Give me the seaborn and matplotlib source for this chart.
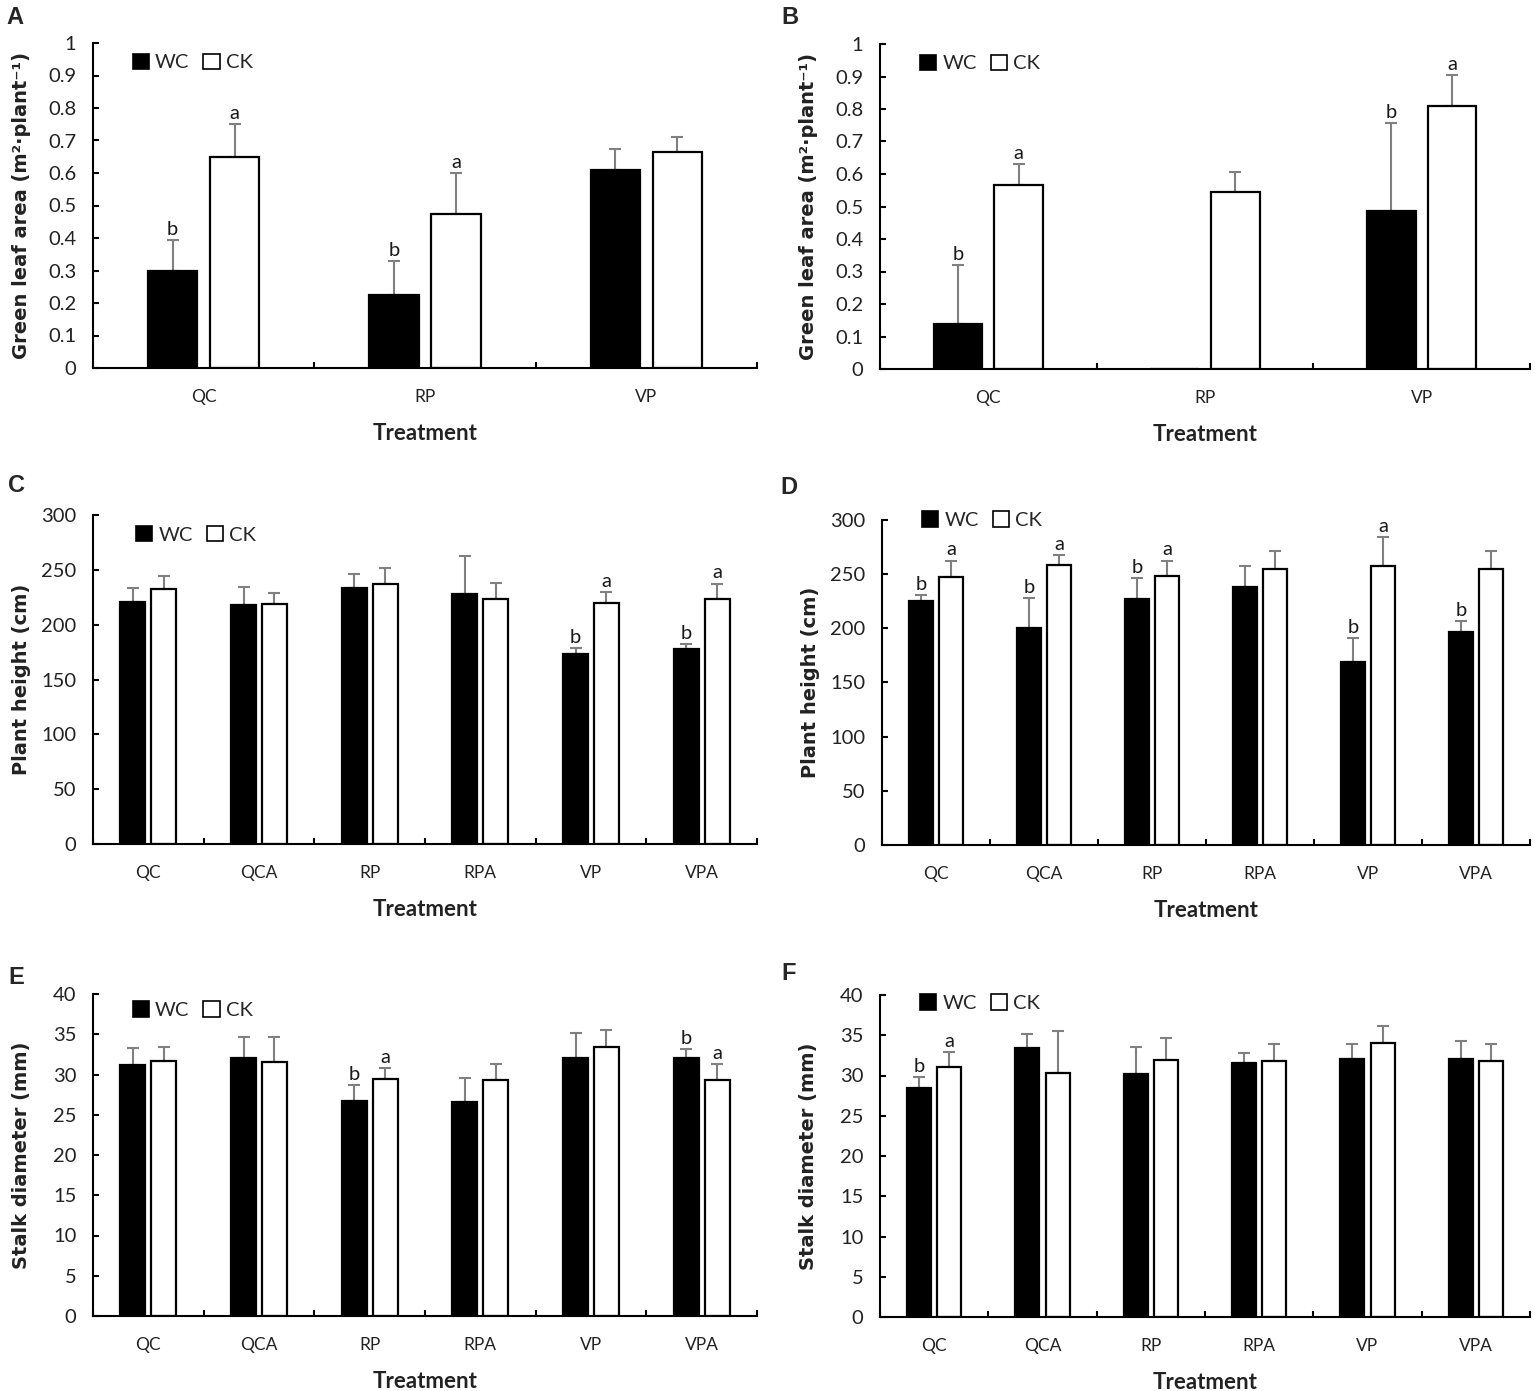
import numpy as np
import pandas as pd
import matplotlib
matplotlib.use("Agg")
import matplotlib.pyplot as plt
import seaborn as sns
from matplotlib.patches import Patch
from matplotlib.ticker import FuncFormatter, FixedLocator

# ---------------- data ----------------
groups = ["WC", "CK"]
cats3 = ["QC", "RP", "VP"]
cats6 = ["QC", "QCA", "RP", "RPA", "VP", "VPA"]

# Panel A - green leaf area
A_wc = [0.30, 0.225, 0.61]
A_wc_top = [0.395, 0.33, 0.675]
A_ck = [0.65, 0.475, 0.665]
A_ck_top = [0.75, 0.60, 0.71]
A_wc_let = ["b", "b", ""]
A_ck_let = ["a", "a", ""]

# Panel B - green leaf area
B_wc = [0.14, 0.0, 0.485]
B_wc_top = [0.32, np.nan, 0.757]
B_ck = [0.565, 0.545, 0.808]
B_ck_top = [0.63, 0.605, 0.905]
B_wc_let = ["b", "", "b"]
B_ck_let = ["a", "", "a"]

# Panel C - plant height
C_wc = [220.6, 218.0, 233.6, 228.0, 173.0, 178.0]
C_wc_top = [233.0, 234.0, 246.0, 263.0, 179.0, 182.0]
C_ck = [232.4, 218.5, 237.0, 223.0, 220.0, 223.0]
C_ck_top = [244.0, 229.0, 252.0, 238.0, 230.0, 237.5]
C_wc_let = ["", "", "", "", "b", "b"]
C_ck_let = ["", "", "", "", "a", "a"]

# Panel D - plant height
D_wc = [225.6, 200.5, 227.0, 237.8, 169.0, 196.5]
D_wc_top = [231.0, 228.0, 246.0, 257.6, 191.0, 207.0]
D_ck = [247.6, 258.6, 248.5, 254.4, 257.7, 254.4]
D_ck_top = [262.6, 268.0, 262.6, 271.0, 284.5, 271.0]
D_wc_let = ["b", "b", "b", "", "b", "b"]
D_ck_let = ["a", "a", "a", "", "a", ""]

# Panel E - stalk diameter
E_wc = [31.2, 32.1, 26.7, 26.6, 32.1, 32.0]
E_wc_top = [33.3, 34.6, 28.7, 29.6, 35.2, 33.2]
E_ck = [31.7, 31.6, 29.4, 29.3, 33.4, 29.3]
E_ck_top = [33.4, 34.6, 30.8, 31.3, 35.5, 31.3]
E_wc_let = ["", "", "b", "", "", "b"]
E_ck_let = ["", "", "a", "", "", "a"]

# Panel F - stalk diameter
F_wc = [28.4, 33.4, 30.2, 31.6, 32.0, 32.0]
F_wc_top = [29.8, 35.2, 33.5, 32.8, 33.9, 34.3]
F_ck = [31.1, 30.3, 31.9, 31.8, 34.0, 31.8]
F_ck_top = [32.9, 35.5, 34.7, 33.9, 36.1, 33.9]
F_wc_let = ["b", "", "", "", "", ""]
F_ck_let = ["a", "", "", "", "", ""]

ylab_leaf = "Green leaf area (m²·plant⁻¹)"
ylab_height = "Plant height (cm)"
ylab_stalk = "Stalk diameter (mm)"

panels = [
    dict(letter="A", cats=cats3, wc=A_wc, wct=A_wc_top, ck=A_ck, ckt=A_ck_top,
         wl=A_wc_let, cl=A_ck_let, ylim=1.0, step=0.1, ylabel=ylab_leaf,
         rect=[93, 43, 757, 368], leg=(0.06, 0.94), lpos=(6, 6)),
    dict(letter="B", cats=cats3, wc=B_wc, wct=B_wc_top, ck=B_ck, ckt=B_ck_top,
         wl=B_wc_let, cl=B_ck_let, ylim=1.0, step=0.1, ylabel=ylab_leaf,
         rect=[880, 44, 1530, 369], leg=(0.062, 0.94), lpos=(781, 6)),
    dict(letter="C", cats=cats6, wc=C_wc, wct=C_wc_top, ck=C_ck, ckt=C_ck_top,
         wl=C_wc_let, cl=C_ck_let, ylim=300, step=50, ylabel=ylab_height,
         rect=[93, 515, 757, 844], leg=(0.065, 0.94), lpos=(8, 474)),
    dict(letter="D", cats=cats6, wc=D_wc, wct=D_wc_top, ck=D_ck, ckt=D_ck_top,
         wl=D_wc_let, cl=D_ck_let, ylim=300, step=50, ylabel=ylab_height,
         rect=[882, 520, 1530, 845], leg=(0.062, 1.0), lpos=(780, 476)),
    dict(letter="E", cats=cats6, wc=E_wc, wct=E_wc_top, ck=E_ck, ckt=E_ck_top,
         wl=E_wc_let, cl=E_ck_let, ylim=40, step=5, ylabel=ylab_stalk,
         rect=[93, 994, 757, 1316], leg=(0.06, 0.95), lpos=(8, 966)),
    dict(letter="F", cats=cats6, wc=F_wc, wct=F_wc_top, ck=F_ck, ckt=F_ck_top,
         wl=F_wc_let, cl=F_ck_let, ylim=40, step=5, ylabel=ylab_stalk,
         rect=[880, 995, 1530, 1317], leg=(0.062, 0.975), lpos=(781, 962)),
]

# ---------------- style ----------------
sns.set_theme(style="white")
plt.rcParams["font.family"] = ["Lato", "DejaVu Sans"]
plt.rcParams["axes.linewidth"] = 1.5

W, H = 1535, 1391
fig = plt.figure(figsize=(W / 100, H / 100), dpi=100)

ERR_COLOR = "#808080"

for p in panels:
    l, t, r, b = p["rect"]
    ax = fig.add_axes([l / W, 1 - b / H, (r - l) / W, (b - t) / H])
    n = len(p["cats"])
    df = pd.DataFrame({
        "Treatment": list(p["cats"]) * 2,
        "value": list(p["wc"]) + list(p["ck"]),
        "group": ["WC"] * n + ["CK"] * n,
    })
    sns.barplot(data=df, x="Treatment", y="value", hue="group",
                order=p["cats"], hue_order=groups,
                palette={"WC": "black", "CK": "white"},
                edgecolor="black", linewidth=1.6, errorbar=None,
                width=0.56, gap=0.2, legend=False, ax=ax, zorder=2)

    bar_conts = list(ax.containers)
    tops = [p["wct"], p["ckt"]]
    lets = [p["wl"], p["cl"]]
    for gi, cont in enumerate(bar_conts):
        for bi, bar in enumerate(cont.patches):
            xc = bar.get_x() + bar.get_width() / 2
            h = bar.get_height()
            top = tops[gi][bi]
            if not np.isnan(top):
                ax.errorbar([xc], [h], yerr=[[0], [top - h]], fmt="none",
                            ecolor=ERR_COLOR, elinewidth=1.5, capsize=4.5,
                            capthick=1.5, zorder=1)
                ref = top
            else:
                ref = h
            if lets[gi][bi]:
                ax.annotate(lets[gi][bi], (xc, ref), xytext=(0, 1.5),
                            textcoords="offset points", ha="center",
                            va="bottom", fontsize=14.5, color="#1a1a1a",
                            annotation_clip=False)

    ax.set_xlim(-0.5, n - 0.5)
    ax.set_ylim(0, p["ylim"])
    ax.set_yticks(np.arange(0, p["ylim"] + p["step"] / 2, p["step"]))
    ax.yaxis.set_major_formatter(FuncFormatter(lambda v, pos: f"{v:g}"))
    ax.xaxis.set_minor_locator(FixedLocator(np.arange(-0.5, n, 1.0)))
    ax.tick_params(axis="x", which="major", length=0, pad=15,
                   labelsize=12.5, labelcolor="#222222")
    ax.tick_params(axis="x", which="minor", length=4.5, width=1.5,
                   direction="in", color="black", bottom=True)
    ax.tick_params(axis="y", which="major", length=4.5, width=1.5,
                   direction="in", color="black", left=True, pad=12,
                   labelsize=14.5, labelcolor="#222222")
    for s in ["top", "right"]:
        ax.spines[s].set_visible(False)
    for s in ["left", "bottom"]:
        ax.spines[s].set_color("black")
        ax.spines[s].set_linewidth(1.5)

    ax.set_xlabel("Treatment", fontsize=16, fontweight="bold", color="#222222")
    ax.xaxis.set_label_coords(0.5, -55 / (b - t))
    ax.set_ylabel(p["ylabel"], fontsize=14, fontweight="bold",
                  family="DejaVu Sans", color="#222222")
    ax.yaxis.set_label_coords(-62 / (r - l), 0.5)

    handles = [Patch(facecolor="black", edgecolor="black", linewidth=1.2),
               Patch(facecolor="white", edgecolor="black", linewidth=1.2)]
    ax.legend(handles, groups, loc="center left", bbox_to_anchor=p["leg"],
              ncol=2, frameon=False, fontsize=14.5, handlelength=0.8,
              handleheight=0.8, handletextpad=0.3, columnspacing=0.7,
              borderaxespad=0, borderpad=0)

    fig.text(p["lpos"][0] / W, 1 - p["lpos"][1] / H, p["letter"],
             fontsize=17, fontweight="bold", family="Liberation Sans",
             va="top", ha="left")

fig.savefig("out.png", dpi=100, facecolor="white")
